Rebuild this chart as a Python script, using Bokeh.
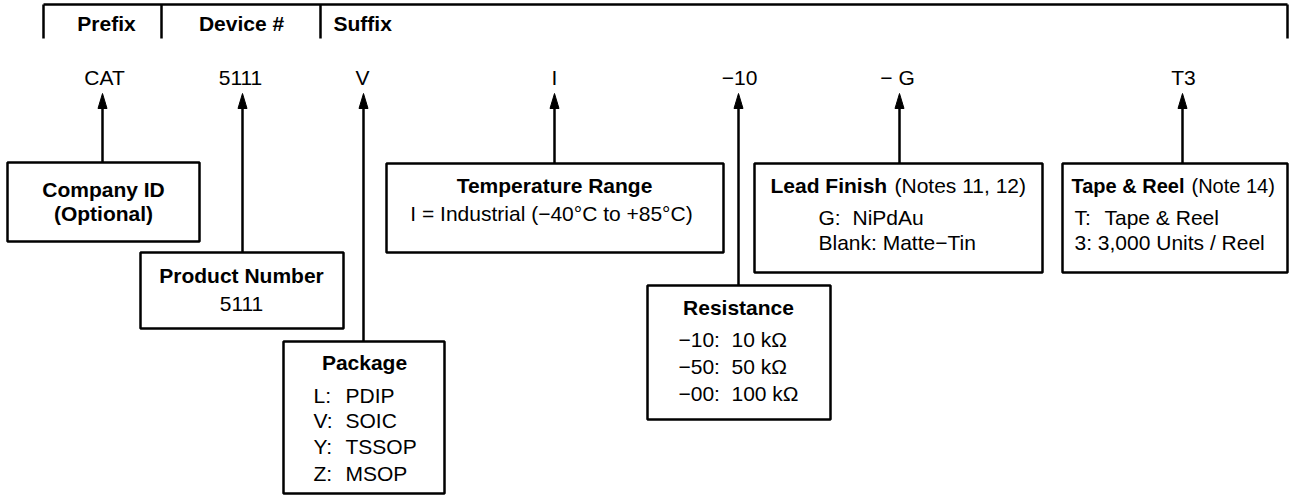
from bokeh.plotting import figure
from bokeh.models import Range1d
from bokeh.core.properties import value
from bokeh.embed import file_html
from bokeh.resources import INLINE

FONT = "Liberation Sans"
FS = "21px"

# ---------------- content ----------------
header_labels = ["Prefix", "Device #", "Suffix"]
code_labels = ["CAT", "5111", "V", "I", "\u221210", "\u2212 G", "T3"]
field_titles = ["Company ID", "Product Number", "Package", "Temperature Range",
                "Resistance", "Lead Finish", "Tape & Reel"]
field_notes = ["(Notes 11, 12)", "(Note 14)"]
company_lines = ["(Optional)"]
product_lines = ["5111"]
package_codes = ["L:", "V:", "Y:", "Z:"]
package_names = ["PDIP", "SOIC", "TSSOP", "MSOP"]
temperature_lines = ["I = Industrial (\u221240\u00b0C to +85\u00b0C)"]
resistance_codes = ["\u221210:", "\u221250:", "\u221200:"]
resistance_values = ["10 k\u03a9", "50 k\u03a9", "100 k\u03a9"]
lead_codes = ["G:"]
lead_values = ["NiPdAu"]
lead_lines = ["Blank: Matte\u2212Tin"]
tape_codes = ["T:"]
tape_values = ["Tape & Reel"]
tape_lines = ["3: 3,000 Units / Reel"]

# ---------------- layout (page pixel coordinates) ----------------
bracket_y = 4
bracket_x = [43, 1287]
tick_x = [43, 161, 320, 1287]
tick_bottom = 38
header_x = [106, 241, 333]
header_align = ["center", "center", "left"]
header_y = 23

code_x = [104, 240, 362, 554, 739, 897, 1183]
code_y = 77
arrow_x = [102, 242, 363, 554, 738, 899, 1182]
arrow_tip = 93
head_len, head_half = 15, 4.5

box_left = [7, 140, 283, 386, 647, 754, 1062]
box_right = [199, 343, 444, 723, 830, 1042, 1287]
box_top = [162, 252, 341, 163, 285, 163, 163]
box_bottom = [241, 328, 493, 252, 419, 272, 272]

LW = 2.5

p = figure(width=1303, height=495, output_backend="svg", toolbar_location=None,
           x_range=Range1d(0, 1303), y_range=Range1d(495, 0),
           min_border=0, outline_line_color=None, background_fill_color="white",
           border_fill_color="white")
p.axis.visible = False
p.grid.visible = False

# bracket
p.segment(x0=[bracket_x[0]], y0=[bracket_y], x1=[bracket_x[1]], y1=[bracket_y],
          line_color="black", line_width=LW)
p.segment(x0=tick_x, y0=[bracket_y] * len(tick_x), x1=tick_x, y1=[tick_bottom] * len(tick_x),
          line_color="black", line_width=LW)


def txt(xs, ys, texts, align="center", bold=False, size=FS):
    p.text(x=xs, y=ys, text=texts, text_font=value(FONT), text_font_size=size,
           text_font_style="bold" if bold else "normal", text_align=align,
           text_baseline="middle", text_color="black")


for hx, ha, hl in zip(header_x, header_align, header_labels):
    txt([hx], [header_y], [hl], align=ha, bold=True)

# codes
txt(code_x, [code_y] * len(code_x), code_labels)

# boxes
p.quad(left=box_left, right=box_right, top=box_top, bottom=box_bottom,
       fill_color="white", line_color="black", line_width=LW)

# arrows: shafts and heads
p.segment(x0=arrow_x, y0=[arrow_tip + head_len - 2] * len(arrow_x), x1=arrow_x, y1=box_top,
          line_color="black", line_width=LW)
hx = [[x - head_half, x, x + head_half] for x in arrow_x]
hy = [[arrow_tip + head_len, arrow_tip, arrow_tip + head_len] for _ in arrow_x]
p.patches(xs=hx, ys=hy, fill_color="black", line_color="black", line_width=1)

# Company ID
txt([103], [189], [field_titles[0]], bold=True)
txt([103], [213], company_lines, bold=True)
# Product Number
txt([241], [275], [field_titles[1]], bold=True)
txt([241], [303], product_lines)
# Package
txt([364], [362], [field_titles[2]], bold=True)
pk_y = [395, 420, 446, 473]
txt([313] * 4, pk_y, package_codes, align="left")
txt([345] * 4, pk_y, package_names, align="left")
# Temperature
txt([554], [185], [field_titles[3]], bold=True)
txt([551], [213], temperature_lines)
# Resistance
txt([738], [307], [field_titles[4]], bold=True)
rs_y = [339, 366, 393]
txt([678] * 3, rs_y, resistance_codes, align="left")
txt([731] * 3, rs_y, resistance_values, align="left")
# Lead finish
txt([770], [185], [field_titles[5]], align="left", bold=True)
txt([894], [185], [field_notes[0]], align="left")
txt([818], [217], lead_codes, align="left")
txt([852], [217], lead_values, align="left")
txt([818], [242], lead_lines, align="left")
# Tape & Reel
txt([1071], [185], [field_titles[6]], align="left", bold=True, size="20px")
txt([1191], [185], [field_notes[1]], align="left", size="20px")
txt([1074], [217], tape_codes, align="left")
txt([1104], [217], tape_values, align="left")
txt([1074], [242], tape_lines, align="left")

open("out.html", "w").write(file_html(p, INLINE))
